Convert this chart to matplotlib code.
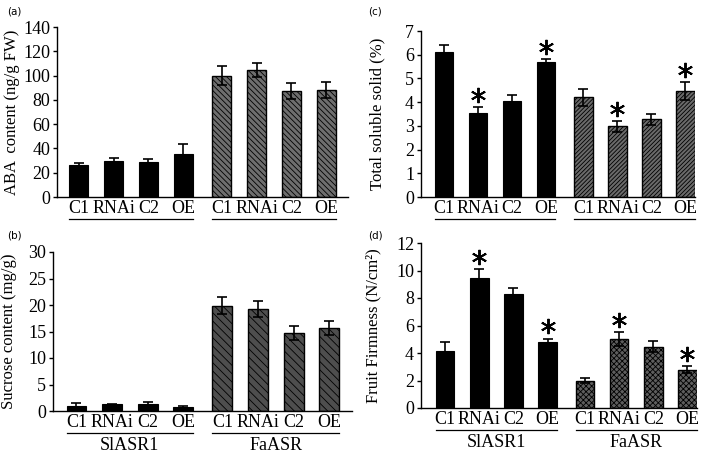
import matplotlib
matplotlib.use("Agg")
import matplotlib.pyplot as plt
from matplotlib.transforms import offset_copy

plt.rcParams['font.family'] = ['Liberation Serif', 'DejaVu Serif']
plt.rcParams['hatch.linewidth'] = 0.6

# data
lines = ['C1', 'RNAi', 'C2', 'OE'] * 2
groups = ['SlASR1', 'FaASR']
pos = [0, 1, 2, 3, 4.1, 5.1, 6.1, 7.1]

aba = [26.4, 29.9, 29.1, 35.1, 99.9, 104.6, 87.3, 88.1]
aba_err = [1.9, 2.5, 2.6, 8.3, 7.7, 6.0, 6.3, 6.9]

sucrose = [0.94, 1.26, 1.26, 0.75, 19.9, 19.2, 14.7, 15.7]
sucrose_err = [0.56, 0.14, 0.44, 0.19, 1.6, 1.5, 1.3, 1.3]

tss = [6.1, 3.56, 4.05, 5.7, 4.2, 2.98, 3.27, 4.47]
tss_err = [0.32, 0.22, 0.24, 0.11, 0.35, 0.22, 0.24, 0.37]

firm = [4.18, 9.42, 8.29, 4.83, 2.0, 5.02, 4.47, 2.78]
firm_err = [0.65, 0.68, 0.41, 0.22, 0.2, 0.48, 0.43, 0.24]

signif = [1, 3, 5, 7]

W, H = 709, 453
fig = plt.figure(figsize=(W / 100, H / 100), dpi=100)


def make_axes(left, right, top, bottom):
    return fig.add_axes([left / W, 1 - bottom / H, (right - left) / W, (bottom - top) / H])


def panel(ax, vals, errs, ylim, yticks, ylabel, xlim, hatch, face, width,
          labx, stars=None, group_names=False, tag='', tagxy=(0, 0)):
    for i, (p, v, e) in enumerate(zip(pos, vals, errs)):
        if i < 4:
            ax.bar(p, v, width=width, color='black', edgecolor='black', linewidth=0.8, zorder=2)
        else:
            ax.bar(p, v, width=width, color=face, edgecolor='black', hatch=hatch,
                   linewidth=1.0, zorder=2)
    ax.errorbar(pos, vals, yerr=errs, fmt='none', ecolor='black', elinewidth=1.2,
                capsize=3.5, capthick=1.2, zorder=3)
    if stars:
        tops = [vals[i] + errs[i] for i in stars]
        sx = [pos[i] for i in stars]
        star_tr = offset_copy(ax.transData, fig=fig, y=9, units='points')
        ax.plot(sx, tops, linestyle='none', marker=(6, 2, 0), markersize=11,
                markeredgewidth=1.4, color='black', transform=star_tr, clip_on=False)
    ax.set_ylim(*ylim)
    ax.set_yticks(yticks)
    ax.set_xlim(*xlim)
    ax.set_xticks(pos)
    ax.set_xticklabels(lines)
    ax.tick_params(axis='x', length=0, pad=2.5, labelsize=13)
    ax.tick_params(axis='y', length=3, direction='out', labelsize=13, width=1, pad=2)
    ax.spines['top'].set_visible(False)
    ax.spines['right'].set_visible(False)
    ax.spines['left'].set_linewidth(1)
    ax.spines['bottom'].set_linewidth(1)
    ax.set_ylabel(ylabel, fontsize=12)
    ax.yaxis.set_label_coords(labx, 0.5)

    line_tr = offset_copy(ax.get_xaxis_transform(), fig=fig, y=-16, units='points')
    name_tr = offset_copy(ax.get_xaxis_transform(), fig=fig, y=-25, units='points')
    for g in range(2):
        x0 = pos[g * 4] - width / 2
        x1 = pos[g * 4 + 3] + width / 2
        ax.plot([x0, x1], [0, 0], color='black', linewidth=0.9, transform=line_tr,
                clip_on=False)
        if group_names:
            ax.text((x0 + x1) / 2, 0, groups[g], transform=name_tr, ha='center',
                    va='center', fontsize=13)
    fig.text(tagxy[0] / W, 1 - tagxy[1] / H, tag, fontsize=7.5, family='DejaVu Sans',
             ha='left', va='center')


ax_a = make_axes(57, 348, 27, 197)
panel(ax_a, aba, aba_err, (0, 140), range(0, 141, 20), 'ABA  content (ng/g FW)',
      (-0.62, 7.72), '\\\\\\\\\\\\', '#6e6e6e', 0.54, -0.128, tag='(a)', tagxy=(7, 12))

ax_b = make_axes(53, 352, 252, 411)
panel(ax_b, sucrose, sucrose_err, (0, 30), range(0, 31, 5), 'Sucrose content (mg/g)',
      (-0.66, 7.74), '\\\\\\\\', '#4e4e4e', 0.56, -0.12, group_names=True,
      tag='(b)', tagxy=(7, 236))

ax_c = make_axes(421, 695, 31, 197)
panel(ax_c, tss, tss_err, (0, 7), range(0, 8), 'Total soluble solid (%)',
      (-0.67, 7.38), '////////', '#6a6a6a', 0.54, -0.131, stars=signif,
      tag='(c)', tagxy=(368, 12))

ax_d = make_axes(421, 697, 243, 408)
panel(ax_d, firm, firm_err, (0, 12), range(0, 13, 2), 'Fruit Firmness (N/cm²)',
      (-0.71, 7.38), 'xxxxxx', '#5e5e5e', 0.54, -0.142, stars=signif, group_names=True,
      tag='(d)', tagxy=(368, 236))

fig.savefig('out.png', dpi=100)
